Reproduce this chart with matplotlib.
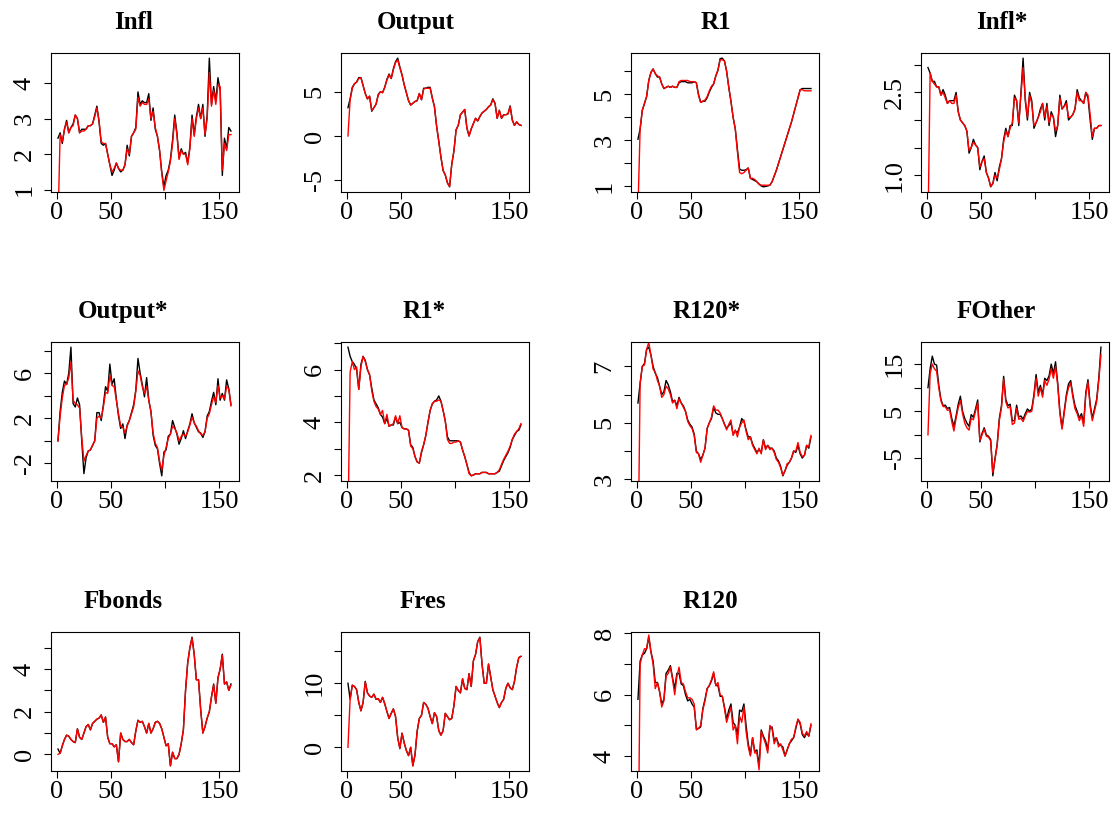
import numpy as np
import matplotlib
matplotlib.use("Agg")
import matplotlib.pyplot as plt


# Data
# ----
# observations 1..162, read off at every second index
t = np.arange(1, 162, 2)
n_obs = 162

infl = [2.45, 2.6, 2.3, 2.7, 2.95, 2.6, 2.75, 2.85, 3.1, 3.0,
        2.6, 2.7, 2.7, 2.7, 2.8, 2.8, 2.85, 3.1, 3.35, 2.9,
        2.3, 2.25, 2.3, 2.0, 1.7, 1.4, 1.55, 1.75, 1.6, 1.5,
        1.55, 1.7, 2.25, 1.95, 2.5, 2.6, 2.75, 3.75, 3.4, 3.5,
        3.45, 3.45, 3.7, 2.95, 3.3, 2.7, 2.5, 2.1, 1.5, 1.08,
        1.4, 1.55, 1.85, 2.4, 3.1, 2.6, 1.9, 2.15, 2.0, 2.05,
        1.75, 2.2, 3.1, 2.55, 3.05, 3.4, 3.0, 3.4, 2.5, 3.1,
        4.7, 3.4, 3.9, 3.5, 4.15, 3.8, 1.4, 2.45, 2.15, 2.75,
        2.65]
infl_fit = [0.0, 2.55, 2.35, 2.7, 2.9, 2.6, 2.75, 2.8, 3.1, 3.0,
            2.6, 2.65, 2.65, 2.7, 2.8, 2.8, 2.85, 3.05, 3.3, 2.95,
            2.35, 2.3, 2.3, 2.0, 1.7, 1.5, 1.6, 1.75, 1.6, 1.55,
            1.55, 1.7, 2.15, 2.0, 2.5, 2.6, 2.7, 3.6, 3.35, 3.45,
            3.4, 3.4, 3.55, 3.0, 3.2, 2.75, 2.5, 2.1, 1.45, 0.98,
            1.25, 1.5, 1.8, 2.3, 3.0, 2.55, 1.85, 2.1, 2.0, 2.0,
            1.7, 2.15, 3.0, 2.5, 3.0, 3.3, 3.0, 3.3, 2.55, 3.0,
            4.3, 3.35, 3.8, 3.4, 3.95, 3.9, 1.55, 2.3, 2.1, 2.55,
            2.55]

output = [3.2, 4.2, 5.5, 5.9, 6.1, 6.6, 6.6, 5.7, 4.8, 4.2,
          4.5, 2.8, 3.2, 3.6, 4.7, 5.0, 4.9, 5.5, 6.4, 7.0,
          6.5, 7.6, 8.4, 8.8, 7.8, 6.9, 5.8, 4.9, 4.0, 3.5,
          3.7, 3.9, 4.0, 4.8, 4.1, 5.4, 5.4, 5.5, 5.5, 4.3,
          3.3, 1.1, -0.6, -2.4, -3.9, -4.4, -5.3, -5.75, -3.2, -1.7,
          0.7, 1.2, 2.4, 2.7, 3.0, 0.9, 0.0, 0.8, 1.4, 2.0,
          1.7, 2.2, 2.6, 2.8, 3.0, 3.3, 3.5, 4.2, 3.7, 2.0,
          2.9, 2.0, 2.4, 2.4, 2.5, 3.4, 1.8, 1.2, 1.6, 1.3,
          1.2]
output_fit = [0.0, 4.1, 5.4, 5.9, 6.1, 6.5, 6.6, 5.7, 4.8, 4.2,
              4.5, 2.9, 3.2, 3.6, 4.6, 5.0, 4.9, 5.5, 6.3, 6.9,
              6.5, 7.5, 8.3, 8.6, 7.7, 6.9, 5.8, 4.9, 4.0, 3.5,
              3.7, 3.9, 4.0, 4.8, 4.1, 5.3, 5.4, 5.4, 5.4, 4.3,
              3.3, 1.1, -0.6, -2.4, -3.9, -4.4, -5.3, -5.7, -3.2, -1.7,
              0.7, 1.2, 2.4, 2.7, 3.0, 0.9, 0.0, 0.8, 1.4, 2.0,
              1.7, 2.2, 2.6, 2.8, 3.0, 3.3, 3.5, 4.1, 3.7, 2.0,
              2.9, 2.0, 2.4, 2.4, 2.5, 3.3, 1.8, 1.2, 1.6, 1.3,
              1.2]

r1 = [3.05, 3.5, 4.3, 4.6, 4.9, 5.6, 5.95, 6.1, 5.9, 5.75,
      5.75, 5.45, 5.25, 5.3, 5.35, 5.3, 5.35, 5.3, 5.3, 5.5,
      5.55, 5.55, 5.55, 5.5, 5.5, 5.5, 5.55, 5.5, 5.0, 4.65,
      4.7, 4.7, 4.85, 5.1, 5.3, 5.45, 5.8, 6.05, 6.55, 6.57,
      6.45, 6.0, 5.3, 4.7, 4.0, 3.5, 2.6, 1.75, 1.7, 1.7,
      1.72, 1.8, 1.35, 1.3, 1.25, 1.2, 1.1, 1.02, 0.98, 1.0,
      1.02, 1.05, 1.2, 1.45, 1.7, 2.0, 2.3, 2.6, 2.9, 3.2,
      3.5, 3.8, 4.15, 4.5, 4.85, 5.2, 5.25, 5.25, 5.25, 5.25,
      5.25]
r1_fit = [0.0, 3.5, 4.3, 4.6, 4.9, 5.6, 5.95, 6.1, 5.9, 5.8,
          5.75, 5.45, 5.25, 5.3, 5.35, 5.3, 5.35, 5.3, 5.3, 5.55,
          5.6, 5.6, 5.6, 5.6, 5.55, 5.55, 5.55, 5.5, 4.95, 4.65,
          4.7, 4.75, 4.9, 5.15, 5.35, 5.45, 5.8, 6.05, 6.5, 6.5,
          6.45, 6.0, 5.3, 4.7, 4.0, 3.5, 2.5, 1.6, 1.55, 1.6,
          1.7, 1.8, 1.35, 1.35, 1.3, 1.2, 1.1, 1.05, 1.05, 1.05,
          1.05, 1.05, 1.2, 1.45, 1.7, 2.0, 2.3, 2.6, 2.9, 3.2,
          3.5, 3.8, 4.15, 4.5, 4.85, 5.2, 5.2, 5.15, 5.15, 5.15,
          5.15]

infl_star = [2.95, 2.85, 2.7, 2.7, 2.6, 2.6, 2.45, 2.55, 2.45, 2.3,
             2.35, 2.35, 2.35, 2.5, 2.15, 2.0, 1.95, 1.9, 1.8, 1.4,
             1.5, 1.65, 1.55, 1.5, 1.1, 1.25, 1.35, 1.05, 0.95, 0.79,
             0.85, 1.05, 0.9, 1.15, 1.3, 1.65, 1.85, 1.7, 1.9, 1.9,
             2.45, 2.35, 1.9, 2.5, 3.12, 2.35, 2.0, 2.5, 2.35, 1.85,
             1.95, 2.05, 2.2, 2.3, 2.0, 2.3, 1.9, 2.15, 2.05, 1.7,
             1.9, 2.45, 2.2, 2.25, 2.35, 2.0, 2.05, 2.1, 2.2, 2.55,
             2.4, 2.35, 2.3, 2.5, 2.4, 2.0, 1.65, 1.85, 1.85, 1.9,
             1.9]
infl_star_fit = [0.0, 2.85, 2.7, 2.65, 2.6, 2.6, 2.45, 2.5, 2.4, 2.3,
                 2.35, 2.3, 2.3, 2.45, 2.15, 2.0, 1.95, 1.9, 1.8, 1.45,
                 1.5, 1.6, 1.55, 1.5, 1.15, 1.25, 1.3, 1.05, 0.95, 0.8,
                 0.85, 1.0, 0.95, 1.1, 1.3, 1.6, 1.8, 1.7, 1.85, 1.95,
                 2.4, 2.35, 1.95, 2.45, 2.95, 2.4, 2.05, 2.45, 2.3, 1.9,
                 1.95, 2.05, 2.15, 2.3, 2.05, 2.25, 1.95, 2.1, 2.05, 1.8,
                 1.9, 2.4, 2.2, 2.25, 2.3, 2.05, 2.05, 2.1, 2.2, 2.5,
                 2.35, 2.35, 2.3, 2.5, 2.45, 2.1, 1.7, 1.85, 1.85, 1.9,
                 1.9]

output_star = [0.0, 2.6, 4.3, 5.3, 5.0, 6.0, 8.3, 3.3, 3.0, 3.8,
               3.2, 0.0, -2.9, -1.5, -0.9, -0.8, -0.4, 0.0, 2.5, 2.5,
               1.8, 3.2, 4.8, 4.4, 6.8, 5.0, 5.5, 3.7, 2.2, 1.1,
               1.5, 0.2, 1.4, 1.8, 2.5, 3.2, 4.5, 7.3, 6.0, 5.0,
               3.9, 5.6, 3.6, 2.6, 0.5, -0.4, -0.7, -2.0, -3.1, -1.0,
               -0.8, 0.4, 0.6, 1.8, 1.2, 0.6, -0.3, 0.2, 0.9, 0.2,
               0.9, 1.5, 2.4, 1.6, 1.2, 0.8, 0.7, 0.3, 0.8, 2.2,
               2.6, 3.5, 4.3, 3.2, 5.5, 3.6, 4.2, 3.6, 5.4, 4.6,
               3.2]
output_star_fit = [0.0, 2.2, 3.8, 4.9, 5.0, 5.6, 7.0, 3.6, 3.3, 3.2,
                   2.9, 0.3, -1.8, -1.3, -0.9, -0.8, -0.4, 0.0, 2.0, 2.2,
                   2.0, 3.0, 4.3, 4.2, 5.8, 4.9, 4.8, 3.6, 2.4, 1.3,
                   1.2, 0.7, 1.3, 1.8, 2.4, 3.0, 4.4, 6.2, 5.8, 4.8,
                   4.2, 4.8, 3.6, 2.6, 0.7, -0.2, -0.6, -1.8, -2.6, -1.3,
                   -0.6, 0.2, 0.6, 1.3, 1.1, 0.7, 0.0, 0.4, 0.6, 0.4,
                   0.8, 1.4, 2.1, 1.6, 1.3, 0.9, 0.6, 0.5, 0.8, 2.0,
                   2.4, 3.2, 3.9, 3.4, 4.9, 3.8, 4.0, 3.7, 4.8, 4.6,
                   3.1]

r1_star = [6.85, 6.5, 6.3, 6.2, 6.0, 5.25, 6.2, 6.5, 6.35, 6.0,
           5.8, 5.3, 4.85, 4.7, 4.55, 4.3, 4.2, 3.95, 4.15, 3.85,
           3.9, 3.9, 4.2, 3.95, 4.0, 3.8, 3.75, 3.75, 3.7, 3.15,
           3.05, 2.7, 2.5, 2.45, 2.85, 3.15, 3.5, 4.0, 4.45, 4.7,
           4.8, 4.85, 5.0, 4.8, 4.45, 4.05, 3.45, 3.3, 3.3, 3.3,
           3.3, 3.3, 3.25, 2.95, 2.7, 2.4, 2.1, 1.97, 2.0, 2.05,
           2.05, 2.05, 2.1, 2.1, 2.1, 2.05, 2.05, 2.05, 2.05, 2.1,
           2.15, 2.35, 2.55, 2.7, 2.85, 3.05, 3.35, 3.5, 3.65, 3.7,
           3.9]
r1_star_fit = [0.0, 5.9, 6.3, 6.0, 6.1, 5.25, 6.1, 6.5, 6.3, 6.0,
               5.8, 5.2, 4.8, 4.6, 4.5, 4.3, 4.45, 3.95, 4.3, 3.85,
               3.9, 3.95, 4.25, 3.95, 4.25, 3.8, 3.75, 3.75, 3.7, 3.1,
               3.0, 2.7, 2.5, 2.45, 2.9, 3.15, 3.5, 4.0, 4.45, 4.7,
               4.8, 4.8, 4.85, 4.8, 4.45, 4.05, 3.35, 3.2, 3.2, 3.25,
               3.25, 3.3, 3.25, 2.95, 2.7, 2.4, 2.05, 1.98, 2.0, 2.05,
               2.05, 2.05, 2.1, 2.1, 2.1, 2.05, 2.05, 2.05, 2.05, 2.1,
               2.2, 2.4, 2.6, 2.75, 2.9, 3.1, 3.35, 3.55, 3.65, 3.75,
               3.95]

r120_star = [5.7, 6.4, 7.0, 7.1, 7.6, 7.68, 7.4, 7.0, 6.75, 6.6,
             6.3, 6.0, 6.1, 6.5, 6.35, 6.1, 5.75, 5.8, 5.6, 5.9,
             5.7, 5.6, 5.4, 5.1, 4.95, 4.85, 4.6, 4.0, 3.9, 3.7,
             3.85, 4.1, 4.8, 5.0, 5.15, 5.55, 5.35, 5.3, 5.3, 5.15,
             4.95, 4.8, 4.9, 5.0, 4.6, 4.7, 4.65, 4.85, 5.15, 5.05,
             4.75, 4.5, 4.5, 4.25, 4.1, 3.95, 4.05, 3.95, 4.4, 4.1,
             4.2, 4.1, 4.1, 4.0, 3.75, 3.65, 3.45, 3.12, 3.3, 3.5,
             3.6, 3.75, 4.0, 3.95, 4.2, 3.9, 3.75, 3.85, 4.2, 4.1,
             4.5]
r120_star_fit = [0.0, 6.4, 7.0, 7.05, 7.6, 7.85, 7.4, 6.9, 6.8, 6.5,
                 6.3, 5.9, 6.0, 6.3, 6.2, 6.0, 5.7, 5.8, 5.5, 5.85,
                 5.7, 5.55, 5.4, 5.05, 4.9, 4.8, 4.55, 3.95, 3.9, 3.6,
                 3.85, 4.1, 4.8, 5.0, 5.2, 5.6, 5.45, 5.45, 5.35, 5.15,
                 4.95, 4.75, 4.95, 5.1, 4.55, 4.75, 4.5, 4.85, 5.0, 5.1,
                 4.7, 4.4, 4.5, 4.2, 4.05, 3.9, 4.1, 3.9, 4.4, 4.05,
                 4.2, 4.05, 4.1, 3.95, 3.7, 3.6, 3.4, 3.15, 3.3, 3.55,
                 3.6, 3.75, 4.0, 4.0, 4.3, 3.95, 3.8, 3.85, 4.2, 4.15,
                 4.55]

f_other = [10.0, 14.0, 16.7, 15.0, 14.8, 10.5, 7.5, 6.2, 6.3, 5.6,
           5.8, 3.5, 1.8, 4.0, 6.5, 8.2, 5.0, 3.5, 2.5, 1.8,
           4.3, 3.7, 5.5, 7.4, -1.5, 0.3, 1.5, 0.0, -0.3, -1.0,
           -8.7, -5.0, -2.0, 3.5, 6.2, 12.4, 7.5, 6.2, 6.5, 3.0,
           3.0, 6.3, 3.8, 4.0, 3.3, 4.5, 5.5, 5.0, 5.5, 8.5,
           12.8, 9.0, 10.5, 8.5, 12.0, 11.5, 12.5, 15.0, 13.0, 15.5,
           11.0, 5.0, 1.5, 5.0, 8.5, 10.8, 11.5, 8.5, 6.2, 5.0,
           3.6, 4.5, 2.5, 9.0, 11.7, 6.5, 3.5, 5.5, 7.5, 12.0,
           18.6]
f_other_fit = [0.0, 13.0, 15.0, 14.0, 13.5, 10.0, 7.2, 6.0, 6.0, 5.2,
               5.3, 2.8, 0.8, 3.5, 5.8, 7.3, 4.5, 2.5, 1.5, 1.0,
               3.5, 3.2, 5.0, 6.8, -1.2, 0.0, 1.2, -0.3, -0.5, -1.3,
               -8.0, -5.3, -2.3, 3.0, 5.8, 11.8, 7.0, 5.7, 6.0, 2.2,
               2.5, 5.6, 3.3, 3.5, 2.8, 4.0, 5.0, 4.8, 5.0, 8.0,
               12.0, 8.2, 10.0, 8.0, 11.5, 10.5, 11.8, 14.0, 12.0, 14.5,
               10.5, 4.5, 1.2, 4.5, 8.0, 10.0, 11.0, 8.0, 5.5, 4.5,
               3.0, 4.0, 1.8, 8.5, 11.2, 6.0, 3.0, 5.0, 7.0, 11.5,
               17.0]

f_bonds = [0.25, 0.05, 0.4, 0.7, 0.9, 0.85, 0.7, 0.6, 0.55, 1.2,
           0.8, 0.7, 1.0, 1.3, 1.4, 1.15, 1.45, 1.55, 1.65, 1.7,
           1.85, 1.5, 1.75, 0.8, 0.5, 0.5, 0.35, 0.45, -0.35, 1.0,
           0.7, 0.6, 0.6, 0.7, 0.55, 0.45, 1.1, 1.6, 1.5, 1.55,
           1.3, 1.0, 1.45, 1.0, 1.2, 1.5, 1.55, 1.45, 1.2, 0.8,
           0.4, 0.5, -0.54, 0.1, -0.2, -0.2, 0.0, 0.5, 1.15, 3.0,
           4.3, 5.0, 5.5, 4.7, 3.5, 3.5, 2.1, 1.0, 1.3, 1.7,
           2.0, 2.7, 3.3, 2.4, 3.6, 4.0, 4.7, 3.3, 3.4, 3.0,
           3.3]
f_bonds_fit = [0.0, 0.05, 0.4, 0.7, 0.9, 0.85, 0.7, 0.6, 0.55, 1.2,
               0.8, 0.7, 1.0, 1.3, 1.4, 1.15, 1.45, 1.55, 1.65, 1.7,
               1.85, 1.5, 1.75, 0.8, 0.5, 0.5, 0.35, 0.45, -0.35, 1.0,
               0.7, 0.6, 0.6, 0.7, 0.55, 0.45, 1.1, 1.6, 1.5, 1.55,
               1.3, 1.0, 1.45, 1.0, 1.2, 1.5, 1.55, 1.45, 1.2, 0.8,
               0.4, 0.5, -0.54, 0.1, -0.2, -0.2, 0.0, 0.5, 1.15, 3.0,
               4.3, 5.0, 5.45, 4.7, 3.5, 3.5, 2.1, 1.0, 1.3, 1.7,
               2.0, 2.7, 3.25, 2.4, 3.6, 4.0, 4.65, 3.3, 3.4, 3.0,
               3.25]

f_res = [10.0, 7.5, 9.7, 9.5, 9.0, 7.0, 5.7, 7.0, 10.3, 8.5,
         8.0, 7.8, 8.3, 7.5, 7.6, 7.0, 7.8, 6.8, 5.6, 4.5,
         5.3, 6.0, 4.8, 1.5, -0.2, 2.2, 0.7, -0.5, -1.3, 0.0,
         -2.9, -1.2, 2.5, 4.5, 5.0, 7.0, 6.7, 6.1, 4.8, 3.7,
         5.4, 4.8, 2.6, 1.9, 2.6, 5.3, 4.8, 4.3, 4.5, 6.5,
         9.5, 8.9, 8.5, 10.7, 9.2, 9.0, 11.5, 9.5, 13.5, 14.5,
         16.5, 17.2, 13.0, 10.0, 10.0, 13.0, 11.0, 9.0, 8.0, 7.0,
         6.2, 7.0, 7.5, 9.2, 10.0, 9.3, 9.0, 10.3, 12.5, 14.0,
         14.2]
f_res_fit = [0.0, 7.5, 9.7, 9.5, 9.0, 7.0, 5.7, 7.0, 10.2, 8.5,
             8.0, 7.8, 8.3, 7.5, 7.6, 7.0, 7.8, 6.8, 5.6, 4.5,
             5.3, 6.0, 4.8, 1.5, -0.2, 2.2, 0.7, -0.5, -1.3, 0.0,
             -2.9, -1.2, 2.5, 4.5, 5.0, 7.0, 6.7, 6.1, 4.8, 3.7,
             5.4, 4.8, 2.6, 1.9, 2.6, 5.3, 4.8, 4.3, 4.5, 6.5,
             9.5, 8.9, 8.5, 10.7, 9.2, 9.0, 11.5, 9.5, 13.5, 14.5,
             16.5, 17.1, 13.0, 10.0, 10.0, 13.0, 11.0, 9.0, 8.0, 7.0,
             6.2, 7.0, 7.5, 9.2, 10.0, 9.3, 9.0, 10.3, 12.5, 14.0,
             14.2]

r120 = [5.85, 7.1, 7.3, 7.35, 7.5, 7.88, 7.4, 7.1, 6.4, 6.4,
        6.1, 5.7, 5.85, 6.7, 6.8, 6.95, 6.55, 6.2, 6.7, 6.7,
        6.35, 6.3, 6.0, 5.8, 5.85, 5.7, 5.6, 4.9, 4.9, 4.95,
        5.55, 5.85, 6.2, 6.3, 6.45, 6.7, 6.3, 6.3, 5.95, 5.95,
        5.6, 5.2, 5.5, 5.7, 5.1, 5.0, 4.7, 5.5, 5.45, 5.7,
        5.0, 4.4, 4.05, 4.6, 4.15, 4.2, 3.68, 4.85, 4.65, 4.5,
        4.2, 4.9, 4.95, 4.5, 4.6, 4.4, 4.35, 4.3, 4.0, 4.2,
        4.4, 4.5, 4.6, 4.9, 5.2, 5.05, 4.7, 4.6, 4.75, 4.65,
        5.0]
r120_fit = [0.0, 7.0, 7.3, 7.5, 7.5, 7.95, 7.4, 7.0, 6.2, 6.4,
            6.1, 5.6, 5.8, 6.6, 6.7, 6.9, 6.5, 6.0, 6.6, 6.9,
            6.4, 6.35, 6.1, 5.9, 5.9, 5.85, 5.7, 4.85, 4.9, 5.0,
            5.5, 5.8, 6.2, 6.3, 6.5, 6.75, 6.3, 6.4, 6.0, 5.95,
            5.55, 5.1, 5.35, 5.6, 4.85, 5.0, 4.4, 5.3, 5.1, 5.6,
            4.8, 4.3, 4.0, 4.6, 4.1, 4.1, 3.55, 4.8, 4.6, 4.4,
            4.1, 5.0, 4.9, 4.4, 4.6, 4.3, 4.4, 4.2, 4.0, 4.2,
            4.4, 4.55, 4.6, 4.95, 5.2, 5.1, 4.75, 4.65, 4.8, 4.65,
            5.05]

# title, observed, fitted, y ticks, y tick labels
panels = [
    ("Infl", infl, infl_fit, [1, 2, 3, 4], ["1", "2", "3", "4"]),
    ("Output", output, output_fit, [-5, 0, 5], ["-5", "0", "5"]),
    ("R1", r1, r1_fit, [1, 2, 3, 4, 5, 6], ["1", "", "3", "", "5", ""]),
    ("Infl*", infl_star, infl_star_fit, [1.0, 1.5, 2.0, 2.5, 3.0],
     ["1.0", "", "", "2.5", ""]),
    ("Output*", output_star, output_star_fit, [-2, 0, 2, 4, 6, 8],
     ["-2", "", "2", "", "6", ""]),
    ("R1*", r1_star, r1_star_fit, [2, 3, 4, 5, 6, 7],
     ["2", "", "4", "", "6", ""]),
    ("R120*", r120_star, r120_star_fit, [3, 4, 5, 6, 7],
     ["3", "", "5", "", "7"]),
    ("FOther", f_other, f_other_fit, [-5, 0, 5, 10, 15],
     ["-5", "", "5", "", "15"]),
    ("Fbonds", f_bonds, f_bonds_fit, [0, 1, 2, 3, 4, 5],
     ["0", "", "2", "", "4", ""]),
    ("Fres", f_res, f_res_fit, [0, 5, 10, 15], ["0", "", "10", ""]),
    ("R120", r120, r120_fit, [4, 5, 6, 7, 8], ["4", "", "6", "", "8"]),
]

x_ticks = [0, 50, 100, 150]
x_tick_labels = ["0", "50", "", "150"]


# Layout (pixels)
# ---------------
W, H = 1111, 818
col_left = [51, 341, 631, 921]
row_top = [53, 342, 632]
box_w, box_h = 188, 139
title_shift = [11, 19, 9, 13, 22, 11, 18, 19, 22, 12, 15]

plot_config = {
    "linewidth": 1.0,
    "solid_joinstyle": "round",
}

plt.rcParams["font.family"] = ["Liberation Serif", "DejaVu Serif"]

fig = plt.figure(figsize=(W / 100, H / 100), dpi=100)

for k, (name, obs, fit, yt, ytl) in enumerate(panels):
    r, c = divmod(k, 4)
    ax = fig.add_axes([
        col_left[c] / W,
        1 - (row_top[r] + box_h) / H,
        box_w / W,
        box_h / H,
    ])

    ax.plot(t, obs, color="black", **plot_config)
    ax.plot(t, fit, color="red", **plot_config)

    # R style: 4% padding around the observed range
    lo, hi = min(obs), max(obs)
    pad = 0.04 * (hi - lo)
    ax.set_ylim(lo - pad, hi + pad)
    ax.set_xlim(1 - 0.04 * (n_obs - 1), n_obs + 0.04 * (n_obs - 1))

    ax.set_xticks(x_ticks)
    ax.set_xticklabels(x_tick_labels)
    ax.set_yticks(yt)
    ax.set_yticklabels(ytl, rotation=90, va="center")

    ax.tick_params(direction="out", length=5, width=0.8,
                   labelsize=19, color="black")
    ax.tick_params(axis="x", pad=2)
    ax.tick_params(axis="y", pad=6)
    for s in ax.spines.values():
        s.set_linewidth(0.8)

    ax.set_title(name, fontsize=18, fontweight="bold", pad=17)
    ax.title.set_x(0.5 - title_shift[k] / box_w)

fig.savefig("out.png", dpi=100)
